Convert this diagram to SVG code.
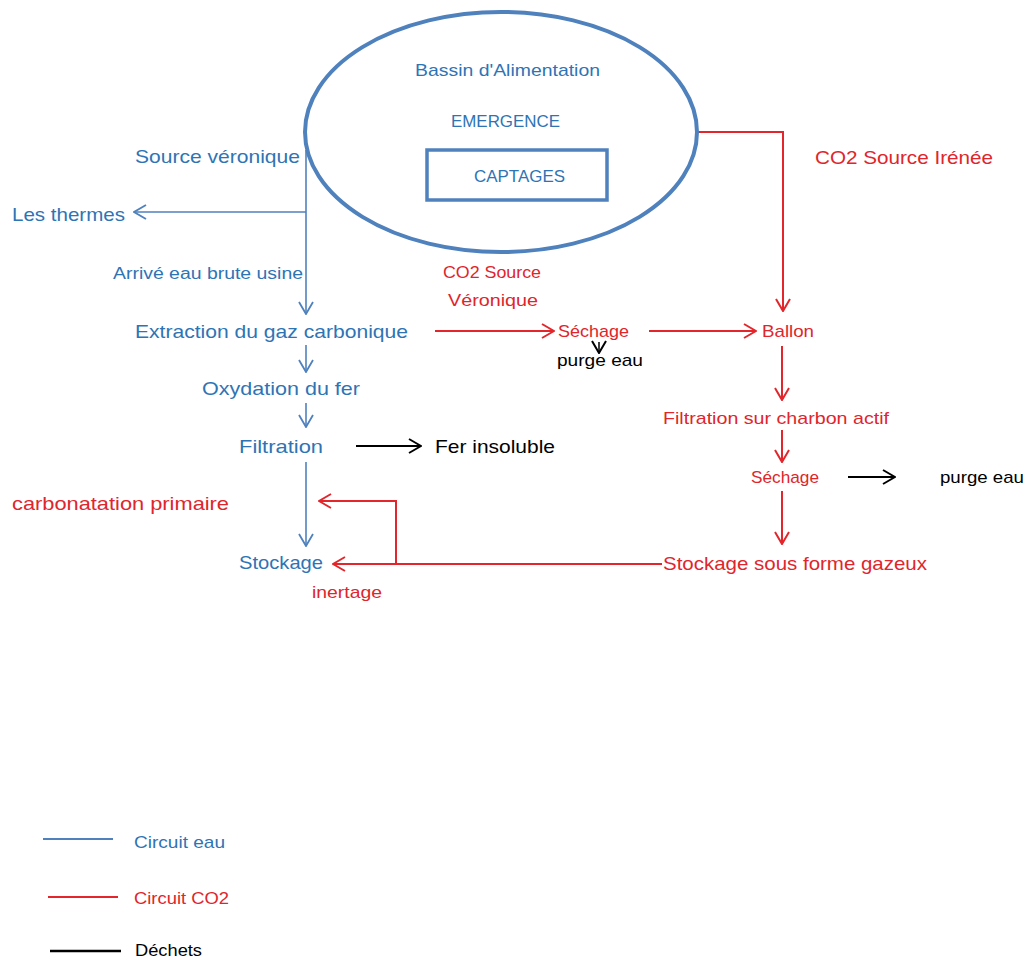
<svg xmlns="http://www.w3.org/2000/svg" width="1027" height="960" viewBox="0 0 1027 960">
<style>
text{font-family:"Liberation Sans",Arial,sans-serif;}
.b{fill:#2E74B5;}
.r{fill:#E0252B;}
.k{fill:#000;}
.lb{stroke:#4F81BD;stroke-width:1.6;fill:none;}
.lr{stroke:#E3262B;stroke-width:2;fill:none;}
.lk{stroke:#000;stroke-width:2;fill:none;}
</style>
<defs>
<marker id="mb" viewBox="0 0 14 16" refX="13" refY="8" markerWidth="14" markerHeight="16" markerUnits="userSpaceOnUse" orient="auto"><path d="M1,1 L13,8 L1,15" fill="none" stroke="#4F81BD" stroke-width="1.8"/></marker>
<marker id="mr" viewBox="0 0 14 16" refX="13" refY="8" markerWidth="14" markerHeight="16" markerUnits="userSpaceOnUse" orient="auto"><path d="M1,1 L13,8 L1,15" fill="none" stroke="#E3262B" stroke-width="2"/></marker>
<marker id="mk" viewBox="0 0 14 16" refX="13" refY="8" markerWidth="14" markerHeight="16" markerUnits="userSpaceOnUse" orient="auto"><path d="M1,1 L13,8 L1,15" fill="none" stroke="#000" stroke-width="2"/></marker>
</defs>
<rect width="1027" height="960" fill="#fff"/>

<g id="connectors">
<path class="lb" d="M306,150 V314" marker-end="url(#mb)"/>
<path class="lb" d="M306,212 H134" marker-end="url(#mb)"/>
<path class="lb" d="M306,345 V372" marker-end="url(#mb)"/>
<path class="lb" d="M306,403 V427" marker-end="url(#mb)"/>
<path class="lb" d="M306,462 V546" marker-end="url(#mb)"/>
<path class="lr" d="M698,132 H783 V311" marker-end="url(#mr)"/>
<path class="lr" d="M435,331 H554" marker-end="url(#mr)"/>
<path class="lr" d="M649,331 H756" marker-end="url(#mr)"/>
<path class="lr" d="M782,346 V400" marker-end="url(#mr)"/>
<path class="lr" d="M782,430 V462" marker-end="url(#mr)"/>
<path class="lr" d="M782,491 V544" marker-end="url(#mr)"/>
<path class="lr" d="M662,564 H333" marker-end="url(#mr)"/>
<path class="lr" d="M396,564 V501 H319" marker-end="url(#mr)"/>
<path class="lk" d="M599,342 V353" marker-end="url(#mk)" style="stroke-width:1.5"/>
<path class="lk" d="M356,446 H421" marker-end="url(#mk)"/>
<path class="lk" d="M848,477 H895" marker-end="url(#mk)"/>
</g>

<g id="bassin">
<ellipse cx="501" cy="132" rx="196" ry="120" fill="none" stroke="#4F81BD" stroke-width="4"/>
<text class="b" x="415" y="76" font-size="17" textLength="185" lengthAdjust="spacingAndGlyphs">Bassin d'Alimentation</text>
<text class="b" x="451" y="127" font-size="17" textLength="109" lengthAdjust="spacingAndGlyphs">EMERGENCE</text>
</g>
<g id="captages">
<rect x="427" y="150" width="180" height="50" fill="none" stroke="#4F81BD" stroke-width="3.5"/>
<text class="b" x="474" y="182" font-size="17" textLength="91" lengthAdjust="spacingAndGlyphs">CAPTAGES</text>
</g>

<g id="source-veronique"><text class="b" x="135" y="163" font-size="19" textLength="165" lengthAdjust="spacingAndGlyphs">Source véronique</text></g>
<g id="thermes"><text class="b" x="12" y="221" font-size="19" textLength="113" lengthAdjust="spacingAndGlyphs">Les thermes</text></g>
<g id="arrive"><text class="b" x="113" y="279" font-size="16" textLength="190" lengthAdjust="spacingAndGlyphs">Arrivé eau brute usine</text></g>
<g id="extraction"><text class="b" x="135" y="338" font-size="19" textLength="273" lengthAdjust="spacingAndGlyphs">Extraction du gaz carbonique</text></g>
<g id="oxydation"><text class="b" x="202" y="395" font-size="19" textLength="158" lengthAdjust="spacingAndGlyphs">Oxydation du fer</text></g>
<g id="filtration"><text class="b" x="239" y="453" font-size="19" textLength="84" lengthAdjust="spacingAndGlyphs">Filtration</text></g>
<g id="fer-insoluble"><text class="k" x="435" y="453" font-size="19" textLength="120" lengthAdjust="spacingAndGlyphs">Fer insoluble</text></g>
<g id="stockage"><text class="b" x="239" y="569" font-size="19" textLength="84" lengthAdjust="spacingAndGlyphs">Stockage</text></g>
<g id="carbonatation"><text class="r" x="12" y="510" font-size="19" textLength="217" lengthAdjust="spacingAndGlyphs">carbonatation primaire</text></g>
<g id="inertage"><text class="r" x="312" y="598" font-size="17" textLength="70" lengthAdjust="spacingAndGlyphs">inertage</text></g>

<g id="co2-veronique">
<text class="r" x="443" y="278" font-size="17" textLength="98" lengthAdjust="spacingAndGlyphs">CO2 Source</text>
<text class="r" x="448" y="306" font-size="17" textLength="90" lengthAdjust="spacingAndGlyphs">Véronique</text>
</g>
<g id="co2-irenee"><text class="r" x="815" y="164" font-size="19" textLength="178" lengthAdjust="spacingAndGlyphs">CO2  Source Irénée</text></g>
<g id="sechage1"><text class="r" x="558" y="337" font-size="17" textLength="71" lengthAdjust="spacingAndGlyphs">Séchage</text></g>
<g id="purge1"><text class="k" x="557" y="366" font-size="17" textLength="86" lengthAdjust="spacingAndGlyphs">purge eau</text></g>
<g id="ballon"><text class="r" x="762" y="337" font-size="17" textLength="52" lengthAdjust="spacingAndGlyphs">Ballon</text></g>
<g id="filtration-charbon"><text class="r" x="663" y="424" font-size="17" textLength="226" lengthAdjust="spacingAndGlyphs">Filtration sur charbon actif</text></g>
<g id="sechage2"><text class="r" x="751" y="483" font-size="17" textLength="68" lengthAdjust="spacingAndGlyphs">Séchage</text></g>
<g id="purge2"><text class="k" x="940" y="483" font-size="17" textLength="84" lengthAdjust="spacingAndGlyphs">purge eau</text></g>
<g id="stockage-gaz"><text class="r" x="663" y="570" font-size="19" textLength="264" lengthAdjust="spacingAndGlyphs">Stockage sous forme gazeux</text></g>

<g id="legend">
<line x1="43" y1="839" x2="113" y2="839" stroke="#4F81BD" stroke-width="2"/>
<text class="b" x="134" y="848" font-size="17" textLength="91" lengthAdjust="spacingAndGlyphs">Circuit eau</text>
<line x1="48" y1="897" x2="118" y2="897" stroke="#E3262B" stroke-width="2"/>
<text class="r" x="134" y="904" font-size="17" textLength="95" lengthAdjust="spacingAndGlyphs">Circuit CO2</text>
<line x1="50" y1="951" x2="121" y2="951" stroke="#000" stroke-width="2.5"/>
<text class="k" x="135" y="956" font-size="16" textLength="67" lengthAdjust="spacingAndGlyphs">Déchets</text>
</g>
</svg>
